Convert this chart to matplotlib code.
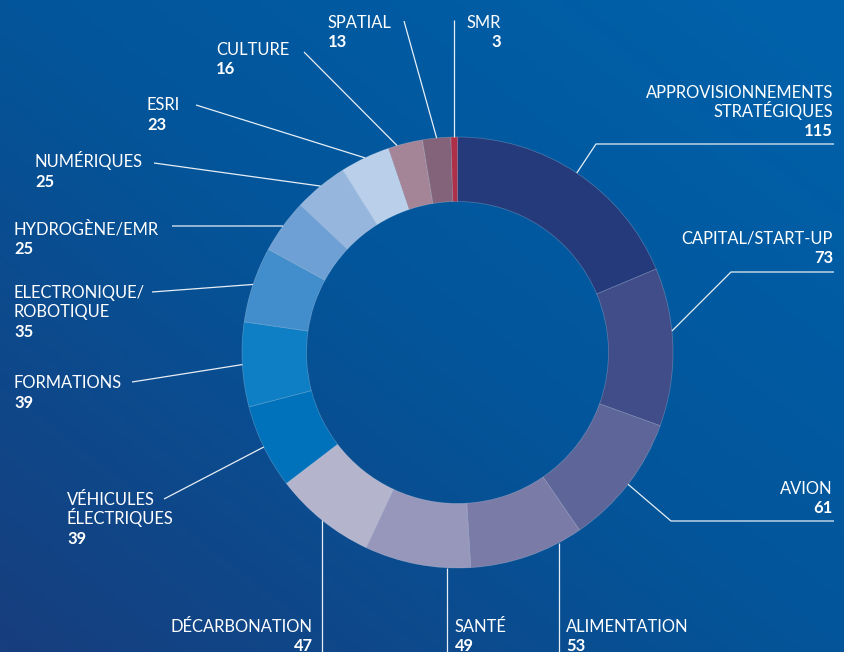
import numpy as np
import matplotlib
matplotlib.use("Agg")
import matplotlib.pyplot as plt
from matplotlib.colors import LinearSegmentedColormap

# donnees
categories = ["APPROVISIONNEMENTS\nSTRATÉGIQUES", "CAPITAL/START-UP", "AVION", "ALIMENTATION",
              "SANTÉ", "DÉCARBONATION", "VÉHICULES\nÉLECTRIQUES", "FORMATIONS",
              "ELECTRONIQUE/\nROBOTIQUE", "HYDROGÈNE/EMR", "NUMÉRIQUES", "ESRI",
              "CULTURE", "SPATIAL", "SMR"]
values = [115, 73, 61, 53, 49, 47, 39, 39, 35, 25, 25, 23, 16, 13, 3]
colors = ["#253a7b", "#414d88", "#5e6598", "#7a7ba7", "#9697ba", "#b4b5cd",
          "#0072bb", "#0e7fc5", "#428dcb", "#6fa0d5", "#97b6de", "#bacfea",
          "#a38597", "#836379", "#ad2f48"]

W, H = 845, 652
cx, cy, R, ring = 457.5, 352.5, 215.5, 64.5   # pixels, y depuis le haut

# position du depart de la ligne dans la part (0..1), texte, coude, fin de ligne
# (x texte, baseline, alignement, coude ou None, point final ou None pour vertical)
layout = [
    (0.5, 833, 97.7, "right", (596, 144), (834, 144)),
    (0.4, 833, 244, "right", (731, 272), (834, 272)),
    (0.5, 833, 494, "right", (671, 521), (834, 521)),
    (0.21, 566, 632, "left", None, "down"),
    (0.22, 455, 632, "left", None, "down"),
    (0.5, 313, 632, "right", None, "down"),
    (0.5, 67, 505, "left", None, (164, 499)),
    (0.5, 14, 388.5, "left", None, (132, 382)),
    (0.5, 14, 298, "left", None, (152, 292)),
    (0.5, 14, 235, "left", None, (172, 226)),
    (0.5, 35, 167.5, "left", None, (154, 163)),
    (0.5, 147, 110.5, "left", None, (196, 105)),
    (0.26, 216, 55, "left", None, (304, 52)),
    (0.5, 328, 28, "left", None, (404, 21)),
    (0.5, 501, 28, "right", None, "up"),
]

plt.rcParams['font.family'] = ['Lato', 'DejaVu Sans']

fig = plt.figure(figsize=(W / 100, H / 100), dpi=100)

# fond en degrade (clair en haut a droite, fonce en bas a gauche)
bg = fig.add_axes([0, 0, 1, 1])
bg.set_axis_off()
xx, yy = np.meshgrid(np.linspace(0, 1, 200), np.linspace(0, 1, 200))
t = ((1 - xx) + yy) / 2
cmap = LinearSegmentedColormap.from_list("bg", ["#0062ab", "#03559a", "#173e7e"])
bg.imshow(t, cmap=cmap, extent=[0, 1, 0, 1], aspect="auto", origin="upper")

ax = fig.add_axes([0, 0, 1, 1])
ax.set_axis_off()
ax.patch.set_alpha(0)

def Y(y):
    return H - y

ax.pie(values, colors=colors, startangle=90, counterclock=False,
       center=(cx, Y(cy)), radius=R,
       wedgeprops=dict(width=ring, edgecolor=(1, 1, 1, 0.25), linewidth=0.5))
ax.set_xlim(0, W)
ax.set_ylim(0, H)
ax.set_aspect("equal")

total = sum(values)
cum = 0
i = 0
while i < len(values):
    frac, tx, ty, ha, elbow, end = layout[i]
    a0 = cum / total * 360
    a1 = (cum + values[i]) / total * 360
    ang = np.radians(a0 + frac * (a1 - a0))
    sx = cx + R * np.sin(ang)
    sy = cy - R * np.cos(ang)
    if end == "down":
        xs, ys = [sx, sx], [sy, H]
    elif end == "up":
        xs, ys = [sx, sx], [sy, 20]
    elif elbow is not None:
        xs, ys = [sx, elbow[0], end[0]], [sy, elbow[1], end[1]]
    else:
        xs, ys = [sx, end[0]], [sy, end[1]]
    ax.plot(xs, [Y(v) for v in ys], color="white", lw=0.9, alpha=0.9,
            solid_capstyle="butt")

    lines = categories[i].split("\n")
    k = 0
    while k < len(lines):
        ax.text(tx, Y(ty + k * 19.3), lines[k], color="white", fontsize=11.9,
                ha=ha, va="baseline")
        k = k + 1
    ax.text(tx, Y(ty + k * 19.3), str(values[i]), color="white", fontsize=11.9,
            fontweight="bold", ha=ha, va="baseline")
    cum = cum + values[i]
    i = i + 1

fig.savefig("out.png", dpi=100)
